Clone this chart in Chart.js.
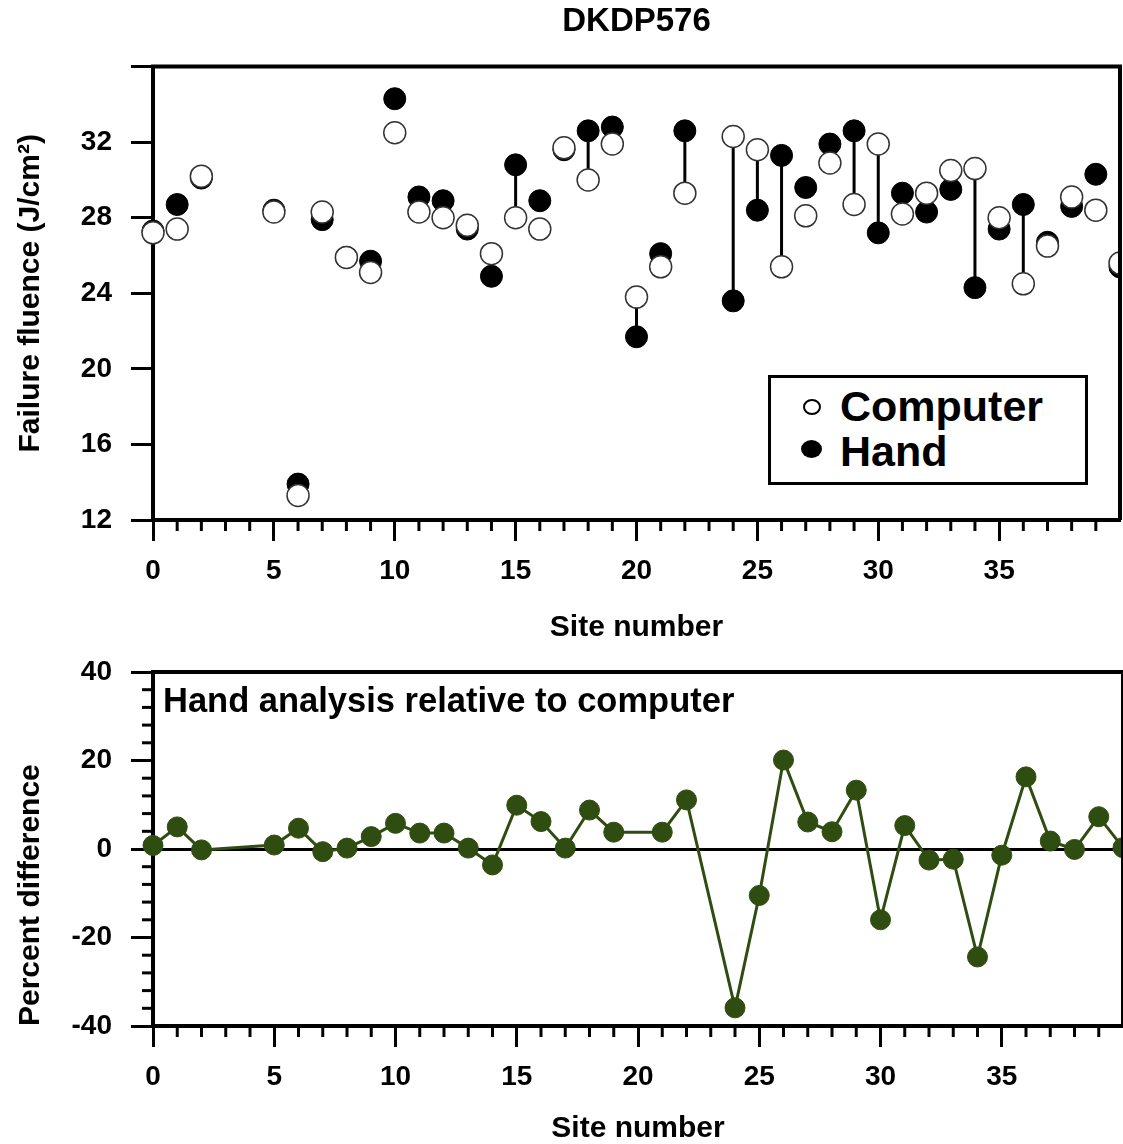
<!DOCTYPE html>
<html>
<head>
<meta charset="utf-8">
<title>DKDP576</title>
<script src="https://cdn.jsdelivr.net/npm/chart.js@4.4.1/dist/chart.umd.min.js"></script>
<style>
  body { margin: 0; background: #fff; }
  #wrap { position: relative; width: 1123px; height: 1144px; overflow: hidden;
          font-family: 'Liberation Sans', Arial, Helvetica, sans-serif; font-weight: bold; color: #000; }
  canvas { position: absolute; left: 0; }
  #topChart { top: 0; }
  #diffChart { top: 650px; }
  .note { position: absolute; line-height: 1; white-space: nowrap; }
  #diffNote { left: 163px; top: 683px; font-size: 34.5px; }
  #legend { position: absolute; left: 768px; top: 375px; width: 320px; height: 110px;
            box-sizing: border-box; border: 3px solid #000; background: #fff; }
  #legend .mk { position: absolute; border-radius: 50%; box-sizing: border-box; }
  #legend .open { left: 32px; top: 21px; width: 18px; height: 16px; border: 2px solid #000; background: #fff; }
  #legend .fill { left: 30px; top: 62px; width: 21px; height: 18px; background: #000; }
  #legend .txt { position: absolute; left: 69px; font-size: 43px; line-height: 1; }
</style>
</head>
<body>
<div id="wrap">
  <canvas id="topChart" width="1123" height="650"></canvas>
  <canvas id="diffChart" width="1123" height="494"></canvas>
  <div id="legend">
    <span class="mk open"></span><span class="txt" style="top:7px">Computer</span>
    <span class="mk fill"></span><span class="txt" style="top:52px">Hand</span>
  </div>
  <div id="diffNote" class="note">Hand analysis relative to computer</div>
</div>
<script>
// site numbers along the x axis
const sites = [0, 1, 2, 3, 4, 5, 6, 7, 8, 9, 10, 11, 12, 13, 14, 15, 16, 17, 18, 19, 20,
               21, 22, 23, 24, 25, 26, 27, 28, 29, 30, 31, 32, 33, 34, 35, 36, 37, 38, 39, 40];

// failure fluence, J/cm2 (null = site not measured)
const computerFluence = [27.2, 27.4, 30.2, null, null, 28.3, 13.3, 28.3, 25.9, 25.1, 32.5,
                         28.3, 28.0, 27.6, 26.1, 28.0, 27.4, 31.7, 30.0, 31.9, 23.8,
                         25.4, 29.3, null, 32.3, 31.6, 25.4, 28.1, 30.9, 28.7, 31.9,
                         28.2, 29.3, 30.5, 30.6, 28.0, 24.5, 26.5, 29.1, 28.4, 25.6];
const handFluence = [27.3, 28.7, 30.1, null, null, 28.4, 13.9, 27.9, 25.9, 25.7, 34.3,
                     29.1, 28.9, 27.4, 24.9, 30.8, 28.9, 31.6, 32.6, 32.8, 21.7,
                     26.1, 32.6, null, 23.6, 28.4, 31.3, 29.6, 31.9, 32.6, 27.2,
                     29.3, 28.3, 29.5, 24.3, 27.4, 28.7, 26.7, 28.6, 30.3, 25.4];

// sites where hand and computer results are joined by a bar
const linkedSites = [15, 18, 20, 22, 24, 25, 26, 29, 30, 34, 36];

// hand analysis relative to computer, percent
const percentDiff = [0.8, 5.0, -0.2, null, null, 0.9, 4.7, -0.6, 0.2, 2.8, 5.8,
                     3.6, 3.6, 0.2, -3.6, 9.9, 6.2, 0.2, 8.8, 3.8, null,
                     3.8, 11.1, null, -35.9, -10.5, 20.1, 6.1, 3.9, 13.3, -16.0,
                     5.3, -2.5, -2.3, -24.4, -1.4, 16.3, 1.8, -0.1, 7.3, 0.3];

const fluenceTicks = [12, 16, 20, 24, 28, 32, 36];
const diffTicks = [-40, -20, 0, 20, 40];

const FONT = "'Liberation Sans', Arial, Helvetica, sans-serif";
Chart.defaults.font.family = FONT;
Chart.defaults.font.weight = 'bold';
Chart.defaults.color = '#000';

function points(values) {
    return sites.map((s, i) => ({ x: s, y: values[i] }));
}

let connectors = [];
linkedSites.forEach(s => {
    let i = sites.indexOf(s);
    connectors.push({ x: s, y: handFluence[i] });
    connectors.push({ x: s, y: computerFluence[i] });
    connectors.push({ x: s, y: null });
});

// top and right sides of the box, plus the short minor tick marks
const frameAndMinor = {
    id: 'frameAndMinor',
    afterDraw(chart, args, opts) {
        const ctx = chart.ctx;
        const a = chart.chartArea;
        ctx.save();
        ctx.strokeStyle = '#000';
        ctx.lineWidth = 4;
        ctx.beginPath();
        ctx.moveTo(a.left - 2, a.top);
        ctx.lineTo(a.right, a.top);
        ctx.lineTo(a.right, a.bottom);
        ctx.stroke();

        ctx.lineWidth = 3;
        if (opts.xStep) {
            const sx = chart.scales.x;
            for (let v = sx.min + opts.xStep; v < sx.max; v += opts.xStep) {
                if (v % opts.xMajor === 0) continue;
                const px = sx.getPixelForValue(v);
                ctx.beginPath();
                ctx.moveTo(px, a.bottom);
                ctx.lineTo(px, a.bottom + opts.length);
                ctx.stroke();
            }
        }
        if (opts.yStep) {
            const sy = chart.scales.y;
            for (let v = sy.min + opts.yStep; v < sy.max; v += opts.yStep) {
                if (v % opts.yMajor === 0) continue;
                const py = sy.getPixelForValue(v);
                ctx.beginPath();
                ctx.moveTo(a.left, py);
                ctx.lineTo(a.left - opts.length, py);
                ctx.stroke();
            }
        }
        ctx.restore();
    }
};

const tickFont = { size: 28, weight: 'bold' };

// x tick labels are pushed down with a tall line height instead of padding,
// so the axis asks for no extra room on the right
function siteAxis(height, titleLineHeight, titleGap) {
    return {
        type: 'linear',
        min: 0,
        max: 40,
        offset: false,
        afterFit: s => { s.height = height; },
        border: { display: true, color: '#000', width: 4 },
        grid: {
            drawOnChartArea: false,
            tickLength: 21,
            tickWidth: 3,
            tickColor: c => (c.tick && c.tick.value === 40) ? 'rgba(0,0,0,0)' : '#000'
        },
        ticks: {
            stepSize: 5,
            padding: 0,
            font: { size: 28, weight: 'bold', lineHeight: 2.14 },
            color: '#000',
            callback: v => v === 40 ? '' : v
        },
        title: {
            display: true,
            text: 'Site number',
            font: { size: 30, weight: 'bold', lineHeight: titleLineHeight },
            color: '#000',
            padding: { top: 0, bottom: titleGap }
        }
    };
}

function fitY(s) {
    s.width = 153;
    s.paddingTop = 0;
    s.paddingBottom = 0;
}

new Chart(document.getElementById('topChart'), {
    type: 'scatter',
    data: {
        datasets: [
            {
                label: 'link',
                data: connectors,
                showLine: true,
                spanGaps: false,
                borderColor: '#000',
                borderWidth: 3,
                pointRadius: 0,
                order: 3
            },
            {
                label: 'Hand',
                data: points(handFluence),
                pointRadius: 11,
                pointBackgroundColor: '#000',
                pointBorderColor: '#000',
                pointBorderWidth: 1,
                clip: { left: 15, top: 15, right: 0, bottom: 15 },
                order: 2
            },
            {
                label: 'Computer',
                data: points(computerFluence),
                pointRadius: 11,
                pointBackgroundColor: '#fff',
                pointBorderColor: '#333',
                pointBorderWidth: 1.5,
                clip: { left: 15, top: 15, right: 0, bottom: 15 },
                order: 1
            }
        ]
    },
    options: {
        responsive: false,
        animation: false,
        events: [],
        layout: { autoPadding: false, padding: { left: 0, right: 3, top: 0, bottom: 0 } },
        plugins: {
            legend: { display: false },
            tooltip: { enabled: false },
            title: {
                display: true,
                text: 'DKDP576',
                fullSize: false,
                font: { size: 33, weight: 'bold' },
                color: '#000',
                padding: { top: 2, bottom: 25 }
            },
            frameAndMinor: { xStep: 1, xMajor: 5, length: 11 }
        },
        scales: {
            x: siteAxis(130, 1.2, 4),
            y: {
                type: 'linear',
                min: fluenceTicks[0],
                max: fluenceTicks[fluenceTicks.length - 1],
                afterFit: fitY,
                afterBuildTicks: s => { s.ticks = fluenceTicks.map(v => ({ value: v })); },
                border: { display: true, color: '#000', width: 4 },
                grid: { drawOnChartArea: false, tickLength: 22, tickWidth: 3, tickColor: '#000' },
                ticks: {
                    padding: 19,
                    font: tickFont,
                    color: '#000',
                    callback: v => v === 36 ? '' : v
                },
                title: {
                    display: true,
                    text: 'Failure fluence (J/cm²)',
                    font: { size: 30, weight: 'bold' },
                    color: '#000',
                    padding: { top: 13, bottom: 0 }
                }
            }
        }
    },
    plugins: [frameAndMinor]
});

const olive = '#2f4c11';

new Chart(document.getElementById('diffChart'), {
    type: 'scatter',
    data: {
        datasets: [{
            label: 'Percent difference',
            data: points(percentDiff),
            showLine: true,
            spanGaps: true,
            borderColor: olive,
            borderWidth: 3,
            pointRadius: 10,
            pointBackgroundColor: olive,
            pointBorderColor: olive,
            pointBorderWidth: 1,
            clip: false
        }]
    },
    options: {
        responsive: false,
        animation: false,
        events: [],
        layout: { autoPadding: false, padding: { left: 0, right: 0, top: 22, bottom: 0 } },
        plugins: {
            legend: { display: false },
            tooltip: { enabled: false },
            frameAndMinor: { xStep: 1, xMajor: 5, yStep: 4, yMajor: 20, length: 11 }
        },
        scales: {
            x: siteAxis(118, 1.0, 0),
            y: {
                type: 'linear',
                min: diffTicks[0],
                max: diffTicks[diffTicks.length - 1],
                afterFit: fitY,
                afterBuildTicks: s => { s.ticks = diffTicks.map(v => ({ value: v })); },
                border: { display: true, color: '#000', width: 4 },
                grid: {
                    drawOnChartArea: true,
                    color: c => (c.tick && c.tick.value === 0) ? '#000' : 'rgba(0,0,0,0)',
                    lineWidth: 3,
                    tickLength: 22,
                    tickWidth: 3,
                    tickColor: '#000'
                },
                ticks: { padding: 19, font: tickFont, color: '#000' },
                title: {
                    display: true,
                    text: 'Percent difference',
                    align: 'start',
                    font: { size: 30, weight: 'bold' },
                    color: '#000',
                    padding: { top: 13, bottom: 0 }
                }
            }
        }
    },
    plugins: [frameAndMinor]
});
</script>
</body>
</html>
